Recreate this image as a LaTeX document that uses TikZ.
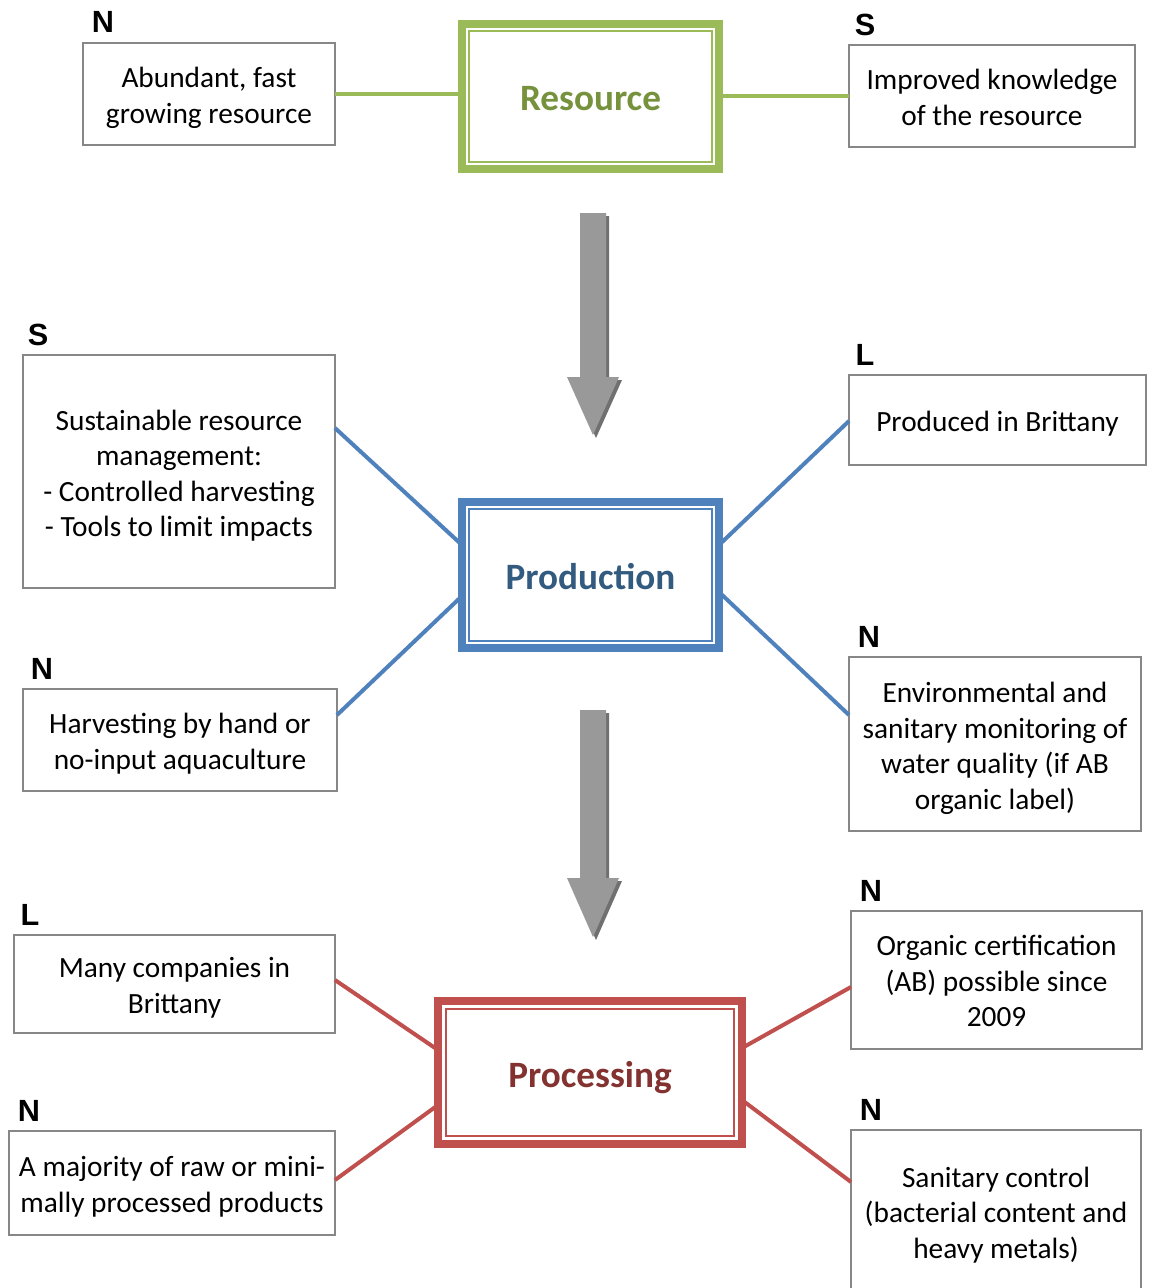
\documentclass[tikz,border=0pt]{standalone}
\usepackage{fontspec}
\setmainfont{Carlito}
\newfontfamily\lblfont{Liberation Sans}
\usetikzlibrary{calc}
\definecolor{boxgray}{HTML}{878787}
\definecolor{resgreen}{HTML}{9BBB59}
\definecolor{restext}{HTML}{76923C}
\definecolor{prodblue}{HTML}{4F81BD}
\definecolor{prodtext}{HTML}{335B80}
\definecolor{procred}{HTML}{C0504D}
\definecolor{proctext}{HTML}{833230}
\definecolor{arrowgray}{HTML}{999999}
\definecolor{arrowshadow}{HTML}{707070}
\newcommand{\lowtext}[2][3.2pt]{\raisebox{-#1}[\height][\depth]{\begin{tabular}{@{}c@{}}#2\end{tabular}}}
\begin{document}
\begin{tikzpicture}[x=0.75pt,y=-0.75pt,
  box/.style={draw=boxgray, line width=1.5pt, fill=white, outer sep=0pt, inner sep=0pt, font=\fontsize{22}{26.7}\selectfont},
  lbl/.style={font=\lblfont\bfseries\fontsize{23}{27}\selectfont, inner sep=0pt},
  mainbox/.style={line width=6pt, fill=white, outer sep=0pt, inner sep=0pt, font=\bfseries\fontsize{27.9}{32}\selectfont},
  innerline/.style={line width=1.8pt},
  conn/.style={line width=3pt},
  blockarrow/.style={fill=arrowgray},
  blockshadow/.style={fill=arrowshadow}]
\useasboundingbox (0,0) rectangle (1150,1288);
\clip (0,0) rectangle (1150,1288);

% block arrows
\fill[blockshadow] (583,216) -- (609,216) -- (609,380) -- (622,380) -- (596,438) -- (570,380) -- (583,380) -- cycle;
\fill[blockarrow] (580,213) -- (606,213) -- (606,377) -- (619,377) -- (593,435) -- (567,377) -- (580,377) -- cycle;
\fill[blockshadow] (583,713) -- (609,713) -- (609,881) -- (622,881) -- (596,940) -- (570,881) -- (583,881) -- cycle;
\fill[blockarrow] (580,710) -- (606,710) -- (606,878) -- (619,878) -- (593,937) -- (567,878) -- (580,878) -- cycle;

% main boxes
\node[mainbox, draw=resgreen, text=restext, minimum width=192.75pt, minimum height=108.75pt] (res) at (590.5,96.5) {\lowtext[3.8pt]{Resource}};
\draw[innerline, resgreen] ($(res.north west)+(7,7)$) rectangle ($(res.south east)+(-7,-7)$);
\node[mainbox, draw=prodblue, text=prodtext, minimum width=192.75pt, minimum height=109.5pt] (prod) at (590.5,575) {\lowtext[4.2pt]{Production}};
\draw[innerline, prodblue] ($(prod.north west)+(7,7)$) rectangle ($(prod.south east)+(-7,-7)$);
\node[mainbox, draw=procred, text=proctext, minimum width=228pt, minimum height=107.25pt] (proc) at (590,1072.5) {\lowtext[4.5pt]{Processing}};
\draw[innerline, procred] ($(proc.north west)+(8,8)$) rectangle ($(proc.south east)+(-8,-8)$);

% side boxes
\node[box, minimum width=189pt, minimum height=76.5pt] (b1) at (209,94) {\lowtext{Abundant, fast\\growing resource}};
\node[box, minimum width=214.5pt, minimum height=76.5pt] (b2) at (992,96) {\lowtext{Improved knowledge\\of the resource}};
\node[box, minimum width=234pt, minimum height=174.75pt] (b3) at (179,471.5) {\lowtext[3.6pt]{Sustainable resource\\management:\\- Controlled harvesting\\- Tools to limit impacts}};
\node[box, minimum width=222.75pt, minimum height=67.5pt] (b4) at (997.5,420) {\lowtext{Produced in Brittany}};
\node[box, minimum width=235.5pt, minimum height=76.5pt] (b5) at (180,740) {\lowtext{Harvesting by hand or\\no-input aquaculture}};
\node[box, minimum width=219pt, minimum height=130.5pt] (b6) at (995,744) {\lowtext[3.6pt]{Environmental and\\sanitary monitoring of\\water quality (if AB\\organic label)}};
\node[box, minimum width=240.75pt, minimum height=73.5pt] (b7) at (174.5,984) {\lowtext{Many companies in\\Brittany}};
\node[box, minimum width=218.25pt, minimum height=103.5pt] (b8) at (996.5,980) {\lowtext{Organic certification\\(AB) possible since\\2009}};
\node[box, minimum width=244.5pt, minimum height=78pt] (b9) at (172,1183) {\lowtext{A majority of raw or mini-\\mally processed products}};
\node[box, minimum width=217.5pt, minimum height=123pt] (b10) at (996,1212) {\lowtext[2.6pt]{Sanitary control\\(bacterial content and\\heavy metals)}};

% letter labels
\node[lbl] (l1) at (103,22) {N};
\node[lbl] (l2) at (865,25) {S};
\node[lbl] (l3) at (38,335) {S};
\node[lbl] (l4) at (865,355) {L};
\node[lbl] (l5) at (42,669) {N};
\node[lbl] (l6) at (869,637) {N};
\node[lbl] (l7) at (30,915) {L};
\node[lbl] (l8) at (871,891) {N};
\node[lbl] (l9) at (29,1111) {N};
\node[lbl] (l10) at (871,1110) {N};

% connectors
\draw[conn, resgreen] (b1.east) -- (b1.east -| res.west);
\draw[conn, resgreen] (b2.west) -- (b2.west -| res.east);
\draw[conn, prodblue] ($(b3.north east)+(0,73)$) -- ($(prod.north west)+(0,43)$);
\draw[conn, prodblue] ($(b5.north east)+(0,26)$) -- ($(prod.south west)+(0,-52)$);
\draw[conn, prodblue] ($(prod.north east)+(0,43)$) -- ($(b4.north west)+(0,46)$);
\draw[conn, prodblue] ($(prod.south east)+(0,-56)$) -- ($(b6.north west)+(0,58)$);
\draw[conn, procred] ($(b7.north east)+(0,45)$) -- ($(proc.north west)+(0,49)$);
\draw[conn, procred] ($(b9.north east)+(0,49)$) -- ($(proc.south west)+(0,-39)$);
\draw[conn, procred] ($(proc.north east)+(0,47)$) -- ($(b8.north west)+(0,76)$);
\draw[conn, procred] ($(proc.south east)+(0,-44)$) -- ($(b10.north west)+(0,52)$);
\end{tikzpicture}
\end{document}
